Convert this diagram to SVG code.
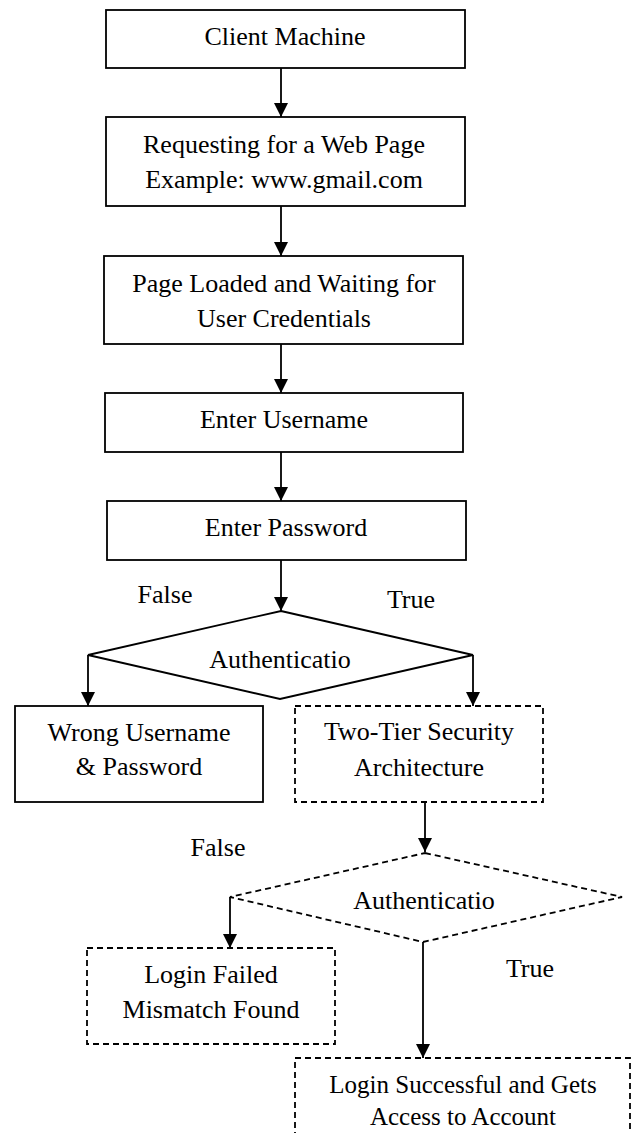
<svg xmlns="http://www.w3.org/2000/svg" width="633" height="1133" viewBox="0 0 633 1133">
  <style>
    .box { fill: #ffffff; stroke: #000000; stroke-width: 1.8; }
    .dash { stroke-dasharray: 6 4; }
    .conn { fill: none; stroke: #000000; stroke-width: 1.8; marker-end: url(#arrow); }
    text { font-family: "Liberation Serif", "Times New Roman", serif; font-size: 26px; text-anchor: middle; fill: #000000; }
    .small { font-size: 25px; }
  </style>
  <defs>
    <marker id="arrow" markerUnits="userSpaceOnUse" markerWidth="14" markerHeight="14" refX="14" refY="7" orient="auto">
      <path d="M0,0 L14,7 L0,14 Z" fill="#000000"/>
    </marker>
  </defs>
  <rect width="633" height="1133" fill="#ffffff"/>

  <g id="connectors">
    <path class="conn" d="M281,68 L281,117"/>
    <path class="conn" d="M281,206 L281,256"/>
    <path class="conn" d="M281,344 L281,393"/>
    <path class="conn" d="M281,452 L281,501"/>
    <path class="conn" d="M281,560 L281,611"/>
    <path class="conn" d="M88,655 L88,706"/>
    <path class="conn" d="M473,655 L473,706"/>
    <path class="conn" d="M425,802 L425,852"/>
    <path class="conn" d="M230,897 L230,948"/>
    <path class="conn" d="M423,942 L423,1058"/>
  </g>

  <g id="client-machine">
    <rect class="box" x="106" y="10" width="359" height="58"/>
    <text x="285" y="45">Client Machine</text>
  </g>

  <g id="request-page">
    <rect class="box" x="106" y="117" width="359" height="89"/>
    <text x="284" y="153">Requesting for a Web Page</text>
    <text x="284" y="188">Example: www.gmail.com</text>
  </g>

  <g id="page-loaded">
    <rect class="box" x="104" y="256" width="359" height="88"/>
    <text x="284" y="292">Page Loaded and Waiting for</text>
    <text x="284" y="327">User Credentials</text>
  </g>

  <g id="enter-username">
    <rect class="box" x="105" y="393" width="358" height="59"/>
    <text x="284" y="428">Enter Username</text>
  </g>

  <g id="enter-password">
    <rect class="box" x="107" y="501" width="359" height="59"/>
    <text x="286" y="536">Enter Password</text>
  </g>

  <g id="auth-1">
    <polygon class="box" points="281,611 473,655 280,699 88,655"/>
    <text x="280" y="668">Authenticatio</text>
  </g>

  <g id="labels-1">
    <text x="165" y="603">False</text>
    <text x="411" y="608">True</text>
  </g>

  <g id="wrong-credentials">
    <rect class="box" x="15" y="706" width="248" height="96"/>
    <text x="139" y="741">Wrong Username</text>
    <text x="139" y="775">&amp; Password</text>
  </g>

  <g id="two-tier">
    <rect class="box dash" x="295" y="706" width="248" height="96"/>
    <text x="419" y="740">Two-Tier Security</text>
    <text x="419" y="776">Architecture</text>
  </g>

  <g id="auth-2">
    <polygon class="box dash" points="425,853 622,897 423,942 230,897"/>
    <text x="424" y="909">Authenticatio</text>
  </g>

  <g id="labels-2">
    <text x="218" y="856">False</text>
    <text x="530" y="977">True</text>
  </g>

  <g id="login-failed">
    <rect class="box dash" x="87" y="948" width="248" height="96"/>
    <text x="211" y="983">Login Failed</text>
    <text x="211" y="1018">Mismatch Found</text>
  </g>

  <g id="login-success">
    <rect class="box dash" x="295" y="1058" width="335" height="100"/>
    <text class="small" x="463" y="1093">Login Successful and Gets</text>
    <text class="small" x="463" y="1125">Access to Account</text>
  </g>
</svg>
